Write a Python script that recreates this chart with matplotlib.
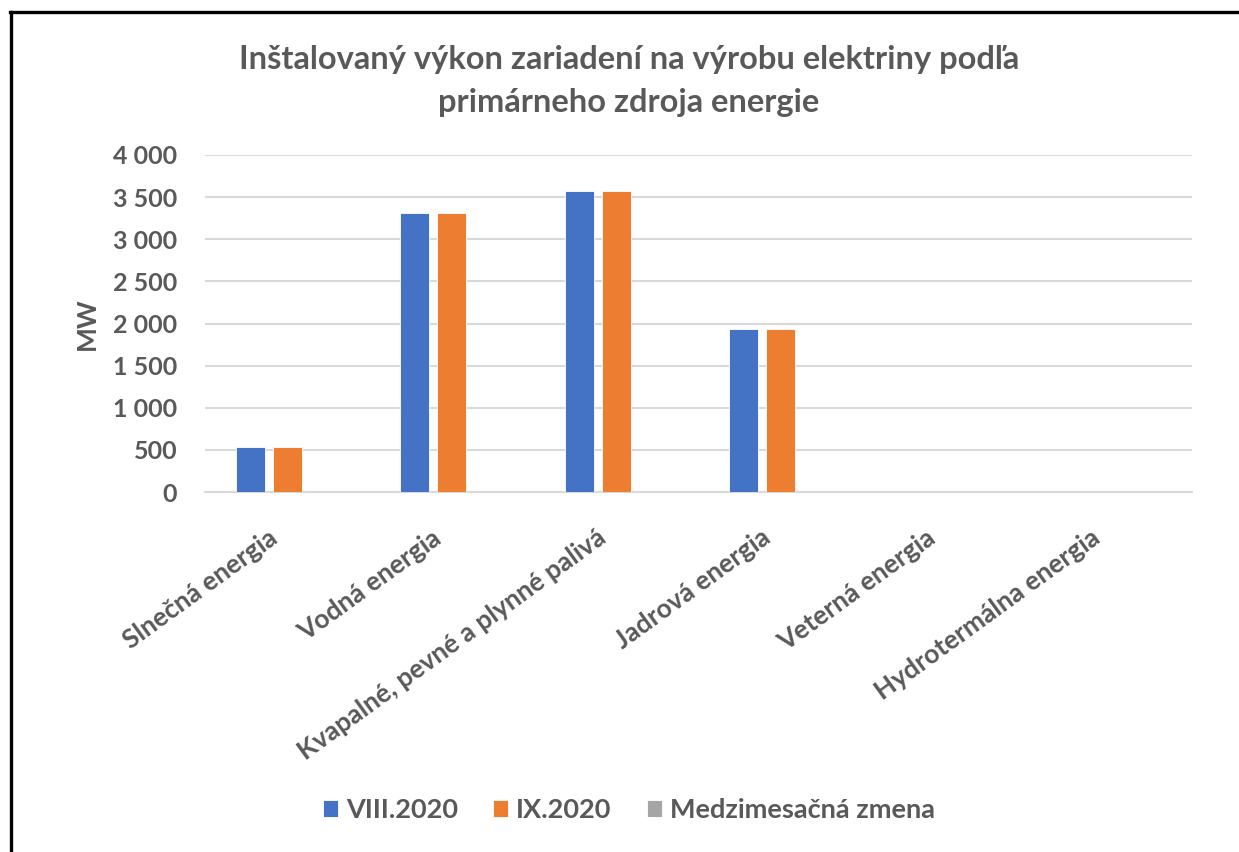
"""Inštalovaný výkon zariadení na výrobu elektriny podľa primárneho zdroja energie."""
import matplotlib

matplotlib.use("Agg")
import matplotlib.pyplot as plt
import matplotlib.transforms as mtransforms
import numpy as np
from matplotlib.lines import Line2D

kategorie = ["Slnečná energia", "Vodná energia", "Kvapalné, pevné a plynné palivá",
             "Jadrová energia", "Veterná energia", "Hydrotermálna energia"]
aug_2020 = [535, 3308, 3576, 1935, 3, 0]
sep_2020 = [535, 3308, 3576, 1935, 3, 0]
zmena = [0, 0, 0, 0, 0, 0]
serie = ["VIII.2020", "IX.2020", "Medzimesačná zmena"]
y_ticks = [0, 500, 1000, 1500, 2000, 2500, 3000, 3500, 4000]

BLUE, ORANGE, GRAY = "#4472c4", "#ed7d31", "#a5a5a5"
INK, GRID = "#595959", "#d9d9d9"
FONT = "Lato"

plt.rcParams["font.family"] = [FONT, "DejaVu Sans"]
plt.rcParams["font.weight"] = "bold"

fig = plt.figure(figsize=(12.39, 8.52), dpi=100, facecolor="white")
ax = fig.add_axes([205 / 1239, 1 - 492 / 852, (1192 - 205) / 1239, (492 - 155) / 852])

x = np.arange(len(kategorie))
w, off = 0.176, 0.225
for i, (vals, col, lab) in enumerate(zip([aug_2020, sep_2020, zmena], [BLUE, ORANGE, GRAY], serie)):
    ax.bar(x + (i - 1) * off, vals, w, color=col, edgecolor="white", lw=0.6, label=lab, zorder=3)

ax.set_xlim(-0.5, len(kategorie) - 0.5)
ax.set_ylim(0, 4000)
ax.set_yticks(y_ticks)
ax.set_yticklabels([f"{v:,}".replace(",", " ") for v in y_ticks])
ax.set_xticks(x)
ax.set_xticklabels(kategorie, rotation=36, ha="right", va="top", rotation_mode="anchor")
ax.tick_params(axis="both", length=0, labelsize=18, labelcolor=INK)
ax.tick_params(axis="y", pad=20)
ax.tick_params(axis="x", pad=24, labelsize=19)
shift = mtransforms.ScaledTranslation(-0.2, 0, fig.dpi_scale_trans)
for lab in ax.get_xticklabels():
    lab.set_transform(lab.get_transform() + shift)
ax.grid(axis="y", color=GRID, lw=1.5, zorder=0)
for s in ("top", "right", "left"):
    ax.spines[s].set_visible(False)
ax.spines["bottom"].set_color(GRID)
ax.spines["bottom"].set_linewidth(1.5)
ax.set_ylabel("MW", fontsize=19, color=INK, fontweight="bold", labelpad=10)

fig.text(629 / 1239, 1 - 81 / 852, "Inštalovaný výkon zariadení na výrobu elektriny podľa\nprimárneho zdroja energie",
         ha="center", va="center", fontsize=23.5, color=INK, linespacing=1.55)

fig.legend(loc="center", bbox_to_anchor=(629 / 1239, 1 - 810 / 852), ncol=3, frameon=False,
           fontsize=19.5, labelcolor=INK, handlelength=0.55, handleheight=0.55,
           handletextpad=0.3, columnspacing=1.3)

# black frame on the left and top only
fig.add_artist(Line2D([11 / 1239, 11 / 1239], [0, 1 - 12 / 852], color="black", lw=2.4,
                      transform=fig.transFigure))
fig.add_artist(Line2D([10 / 1239, 1], [1 - 12 / 852, 1 - 12 / 852], color="black", lw=2.4,
                      transform=fig.transFigure))

fig.savefig("out.png", dpi=100)
